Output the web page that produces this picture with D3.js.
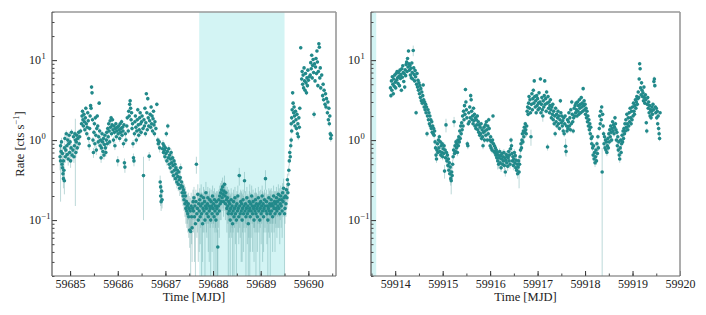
<!DOCTYPE html>
<html>
<head>
    <meta charset="utf-8">
    <title>Light curve</title>
    <script src="https://d3js.org/d3.v7.min.js"></script>
    <style>
        body { margin: 0; background: #fff; }
        svg text { font-family: "Liberation Serif", "Times New Roman", Times, "Nimbus Roman", "DejaVu Serif", "Noto Serif", serif !important; fill: #222; }
    </style>
</head>
<body>
<script>
// [time (MJD), rate (cts/s), error]
const leftSeries = [
[59684.79,0.62,0.2],[59684.80,0.85,0.15],[59684.80,0.55,0.38],[59684.81,0.72,0.12],[59684.82,0.95,0.12],
[59684.83,0.50,0.1],[59684.84,0.45,0.1],[59684.84,0.68,0.1],[59684.85,0.38,0.08],[59684.86,0.33,0.08],
[59684.86,0.55,0.1],[59684.87,0.42,0.1],[59684.88,0.31,0.1],[59684.88,0.80,0.12],[59684.89,1.05,0.12],
[59684.90,0.62,0.1],[59684.91,0.75,0.1],[59684.92,1.2,0.12],[59684.93,0.85,0.1],[59684.94,0.66,0.1],
[59684.95,1.0,0.12],[59684.96,0.58,0.1],[59684.97,0.9,0.1],[59684.98,1.15,0.12],[59684.99,0.7,0.1],
[59685.00,0.95,0.1],[59685.01,0.55,0.1],[59685.02,0.8,0.1],[59685.03,1.25,0.12],[59685.04,0.65,0.1],
[59685.06,0.75,0.1],[59685.07,1.1,0.1],[59685.08,0.62,0.1],[59685.09,0.85,0.1],[59685.10,1.2,0.1],
[59685.11,1.0,0.85],[59685.12,0.7,0.1],[59685.13,0.95,0.1],[59685.14,1.15,0.1],[59685.15,0.8,0.1],
[59685.16,1.05,0.1],[59685.18,1.25,0.1],[59685.19,0.9,0.1],[59685.20,1.1,0.1],[59685.22,1.3,0.1],
[59685.24,1.6,0.12],[59685.25,2.0,0.15],[59685.26,2.3,0.15],[59685.27,1.8,0.12],[59685.28,1.5,0.12],
[59685.29,2.1,0.15],[59685.30,1.7,0.12],[59685.31,1.35,0.1],[59685.32,1.9,0.12],[59685.33,2.5,0.15],
[59685.34,1.6,0.12],[59685.35,1.2,0.1],[59685.36,1.45,0.1],[59685.37,2.2,0.15],[59685.38,1.75,0.12],
[59685.39,1.05,0.1],[59685.40,0.85,0.1],[59685.41,1.4,0.1],[59685.42,2.0,0.12],[59685.43,2.7,0.15],
[59685.44,2.5,0.15],[59685.45,4.6,0.25],[59685.46,3.9,0.2],[59685.47,1.8,0.12],[59685.48,1.0,0.1],
[59685.49,0.7,0.1],[59685.50,1.25,0.1],[59685.51,1.6,0.12],[59685.52,0.9,0.1],[59685.53,1.9,0.12],
[59685.54,1.15,0.1],[59685.55,0.75,0.1],[59685.56,1.4,0.1],[59685.57,2.0,0.12],[59685.58,1.5,0.1],
[59685.59,0.95,0.1],[59685.60,1.1,0.1],[59685.61,2.9,0.15],[59685.62,1.3,0.1],[59685.63,0.85,0.1],
[59685.64,1.0,0.1],[59685.65,0.6,0.08],[59685.66,0.8,0.1],[59685.67,1.2,0.1],[59685.68,0.95,0.1],
[59685.69,0.72,0.08],[59685.70,1.05,0.1],[59685.71,0.65,0.08],[59685.72,0.88,0.1],[59685.73,1.15,0.1],
[59685.74,0.8,0.1],[59685.75,0.7,0.08],[59685.76,1.0,0.1],[59685.77,1.25,0.1],[59685.78,0.9,0.1],
[59685.79,1.4,0.1],[59685.80,1.1,0.1],[59685.81,1.6,0.12],[59685.82,1.3,0.1],[59685.83,0.95,0.1],
[59685.84,1.75,0.12],[59685.85,1.45,0.1],[59685.86,1.9,0.12],[59685.87,1.2,0.1],[59685.88,1.55,0.1],
[59685.89,1.8,0.12],[59685.90,1.35,0.1],[59685.91,1.0,0.1],[59685.92,1.5,0.1],[59685.93,1.25,0.1],
[59685.94,0.85,0.1],[59685.95,1.4,0.1],[59685.96,1.6,0.1],[59685.97,1.1,0.1],[59685.98,1.3,0.1],
[59685.99,1.45,0.1],[59686.00,0.55,0.08],[59686.01,1.2,0.1],[59686.02,1.5,0.1],[59686.03,1.35,0.1],
[59686.04,1.05,0.1],[59686.05,1.6,0.1],[59686.06,1.25,0.1],[59686.07,1.4,0.1],[59686.08,1.7,0.12],
[59686.09,1.15,0.1],[59686.10,1.45,0.1],[59686.11,1.3,0.1],[59686.12,0.9,0.1],[59686.13,1.55,0.1],
[59686.14,0.52,0.07],[59686.15,0.46,0.07],[59686.16,1.2,0.1],[59686.17,1.0,0.1],[59686.19,1.5,0.1],
[59686.20,1.9,0.12],[59686.22,1.3,0.1],[59686.23,2.3,0.15],[59686.24,2.0,0.12],[59686.25,2.8,0.15],
[59686.26,3.1,0.2],[59686.27,2.5,0.15],[59686.28,1.8,0.12],[59686.29,2.2,0.12],[59686.30,1.4,0.1],
[59686.31,1.6,0.1],[59686.32,0.9,0.1],[59686.33,0.6,0.08],[59686.34,0.55,0.08],[59686.35,1.2,0.1],
[59686.36,1.7,0.1],[59686.37,2.0,0.12],[59686.38,1.45,0.1],[59686.39,1.0,0.1],[59686.40,1.3,0.1],
[59686.41,1.8,0.12],[59686.42,2.4,0.15],[59686.43,1.55,0.1],[59686.44,1.15,0.1],[59686.45,1.35,0.1],
[59686.46,1.9,0.12],[59686.47,2.2,0.12],[59686.48,1.6,0.1],[59686.49,1.25,0.1],[59686.50,1.7,0.12],
[59686.51,2.0,0.12],[59686.53,1.4,0.1],[59686.54,0.36,0.26],[59686.55,1.8,0.12],[59686.56,1.5,0.1],
[59686.57,2.5,0.15],[59686.58,1.2,0.1],[59686.59,1.65,0.1],[59686.60,3.8,0.2],[59686.61,2.2,0.12],
[59686.62,1.35,0.1],[59686.63,3.3,0.2],[59686.64,1.9,0.12],[59686.65,1.5,0.1],[59686.66,0.63,0.08],
[59686.67,1.75,0.1],[59686.68,2.1,0.12],[59686.69,1.45,0.1],[59686.70,2.6,0.15],[59686.71,1.6,0.1],
[59686.72,2.0,0.12],[59686.73,1.3,0.1],[59686.74,1.85,0.1],[59686.75,2.3,0.12],[59686.76,1.55,0.1],
[59686.77,1.2,0.1],[59686.78,1.7,0.1],[59686.80,1.4,0.1],[59686.82,2.8,0.15],[59686.84,1.0,0.1],
[59686.85,0.9,0.1],[59686.87,0.95,0.1],[59686.88,0.8,0.1],[59686.89,0.3,0.06],[59686.90,0.2,0.05],
[59686.90,0.26,0.05],[59686.91,0.17,0.04],[59686.92,0.23,0.05],[59686.93,0.18,0.04],[59686.94,0.78,0.08],
[59686.95,0.9,0.1],[59686.96,0.7,0.08],[59686.97,0.85,0.08],[59686.98,0.75,0.08],[59686.99,0.62,0.07],
[59687.00,0.8,0.08],[59687.01,0.68,0.07],[59687.02,1.2,0.1],[59687.03,0.55,0.07],[59687.04,0.72,0.08],
[59687.05,1.5,0.12],[59687.06,0.6,0.07],[59687.07,0.78,0.08],[59687.08,0.5,0.07],[59687.09,0.65,0.07],
[59687.10,0.45,0.06],[59687.11,0.58,0.07],[59687.12,0.7,0.08],[59687.13,0.52,0.06],[59687.14,0.4,0.06],
[59687.15,0.6,0.07],[59687.16,0.48,0.06],[59687.17,0.36,0.05],[59687.18,0.55,0.07],[59687.19,0.42,0.06],
[59687.20,0.5,0.06],[59687.21,0.33,0.05],[59687.22,0.45,0.06],[59687.23,0.38,0.05],[59687.24,0.3,0.05],
[59687.25,0.42,0.06],[59687.26,0.35,0.05],[59687.27,0.28,0.05],[59687.28,0.4,0.06],[59687.29,0.32,0.05],
[59687.30,0.25,0.05],[59687.31,0.34,0.05],[59687.32,0.45,0.06],[59687.33,0.27,0.05],[59687.34,0.3,0.05],
[59687.35,0.22,0.05],[59687.36,0.26,0.05],[59687.37,0.2,0.05],[59687.38,0.24,0.05],[59687.39,0.18,0.05],
[59687.40,0.22,0.06],[59687.41,0.16,0.05],[59687.42,0.2,0.06],[59687.43,0.14,0.05],[59687.44,0.17,0.06],
[59687.45,0.13,0.05],[59687.46,0.15,0.06],[59687.47,0.12,0.05],[59687.48,0.16,0.06],[59687.49,0.11,0.05],
[59687.50,0.14,0.06],[59687.51,0.075,0.03],[59687.52,0.13,0.06],[59687.53,0.072,0.07],[59687.54,0.15,0.07],
[59687.55,0.11,0.06],[59687.56,0.08,0.05],[59687.57,0.14,0.06],[59687.58,0.17,0.07],[59687.59,0.13,0.06],
[59687.60,0.19,0.07],[59687.61,0.11,0.08],[59687.62,0.15,0.06],[59687.63,0.09,0.07],[59687.64,0.17,0.07],
[59687.65,0.5,0.12],[59687.66,0.12,0.06],[59687.67,0.14,0.07],[59687.68,0.21,0.07],[59687.69,0.1,0.07],
[59687.70,0.16,0.06],[59687.71,0.13,0.09],[59687.72,0.18,0.07],[59687.73,0.11,0.06],[59687.74,0.15,0.07],
[59687.75,0.2,0.08],[59687.76,0.12,0.1],[59687.77,0.16,0.06],[59687.78,0.09,0.06],[59687.79,0.14,0.07],
[59687.80,0.19,0.07],[59687.81,0.13,0.06],[59687.82,0.17,0.07],[59687.83,0.1,0.09],[59687.84,0.15,0.06],
[59687.85,0.22,0.08],[59687.86,0.14,0.07],[59687.87,0.12,0.06],[59687.88,0.16,0.07],[59687.89,0.19,0.07],
[59687.90,0.11,0.07],[59687.91,0.15,0.06],[59687.92,0.13,0.1],[59687.93,0.18,0.07],[59687.94,0.14,0.06],
[59687.95,0.1,0.08],[59687.96,0.17,0.07],[59687.97,0.15,0.06],[59687.98,0.12,0.08],[59687.99,0.2,0.07],
[59688.00,0.14,0.06],[59688.01,0.16,0.07],[59688.02,0.11,0.09],[59688.03,0.18,0.07],[59688.04,0.13,0.06],
[59688.05,0.15,0.07],[59688.06,0.1,0.08],[59688.07,0.17,0.06],[59688.08,0.14,0.07],[59688.09,0.12,0.11],
[59688.10,0.046,0.03],[59688.11,0.15,0.07],[59688.12,0.18,0.06],[59688.13,0.13,0.07],[59688.14,0.2,0.07],
[59688.15,0.16,0.06],[59688.16,0.22,0.07],[59688.17,0.17,0.07],[59688.18,0.24,0.07],[59688.19,0.19,0.06],
[59688.20,0.26,0.08],[59688.21,0.21,0.07],[59688.22,0.17,0.06],[59688.23,0.23,0.07],[59688.24,0.28,0.08],
[59688.25,0.2,0.07],[59688.26,0.16,0.06],[59688.27,0.22,0.07],[59688.28,0.18,0.06],[59688.29,0.14,0.07],
[59688.30,0.19,0.07],[59688.31,0.15,0.06],[59688.32,0.12,0.12],[59688.33,0.17,0.07],[59688.34,0.13,0.07],
[59688.35,0.16,0.06],[59688.36,0.1,0.1],[59688.37,0.14,0.07],[59688.38,0.18,0.07],[59688.39,0.12,0.06],
[59688.40,0.15,0.07],[59688.41,0.09,0.08],[59688.42,0.13,0.06],[59688.43,0.17,0.07],[59688.44,0.11,0.1],
[59688.45,0.14,0.06],[59688.46,0.19,0.07],[59688.47,0.12,0.07],[59688.48,0.15,0.06],[59688.49,0.1,0.09],
[59688.50,0.16,0.07],[59688.51,0.13,0.06],[59688.52,0.2,0.07],[59688.53,0.14,0.07],[59688.54,0.11,0.06],
[59688.55,0.36,0.09],[59688.56,0.15,0.07],[59688.57,0.12,0.06],[59688.58,0.17,0.07],[59688.59,0.13,0.1],
[59688.60,0.16,0.06],[59688.61,0.1,0.07],[59688.62,0.14,0.07],[59688.63,0.18,0.06],[59688.64,0.12,0.08],
[59688.65,0.15,0.07],[59688.66,0.31,0.09],[59688.67,0.13,0.06],[59688.68,0.16,0.07],[59688.69,0.11,0.09],
[59688.70,0.14,0.06],[59688.71,0.19,0.07],[59688.72,0.12,0.07],[59688.73,0.15,0.06],[59688.74,0.09,0.07],
[59688.75,0.13,0.07],[59688.76,0.17,0.06],[59688.77,0.14,0.14],[59688.78,0.11,0.07],[59688.79,0.16,0.06],
[59688.80,0.13,0.07],[59688.81,0.2,0.07],[59688.82,0.15,0.06],[59688.83,0.12,0.08],[59688.84,0.17,0.07],
[59688.85,0.14,0.06],[59688.86,0.1,0.07],[59688.87,0.15,0.07],[59688.88,0.13,0.06],[59688.89,0.18,0.07],
[59688.90,0.12,0.1],[59688.91,0.16,0.06],[59688.92,0.14,0.07],[59688.93,0.11,0.07],[59688.94,0.15,0.06],
[59688.95,0.19,0.07],[59688.96,0.13,0.06],[59688.97,0.16,0.07],[59688.98,0.1,0.08],[59688.99,0.14,0.06],
[59689.00,0.17,0.07],[59689.01,0.12,0.07],[59689.02,0.15,0.06],[59689.03,0.2,0.07],[59689.04,0.13,0.1],
[59689.05,0.16,0.06],[59689.06,0.11,0.07],[59689.07,0.14,0.07],[59689.08,0.18,0.06],[59689.09,0.15,0.07],
[59689.10,0.33,0.09],[59689.11,0.13,0.06],[59689.12,0.17,0.07],[59689.13,0.12,0.07],[59689.14,0.15,0.06],
[59689.15,0.1,0.09],[59689.16,0.14,0.07],[59689.17,0.19,0.06],[59689.18,0.13,0.07],[59689.19,0.16,0.07],
[59689.20,0.12,0.12],[59689.21,0.15,0.06],[59689.22,0.18,0.07],[59689.23,0.13,0.06],[59689.24,0.16,0.07],
[59689.25,0.11,0.07],[59689.26,0.15,0.06],[59689.27,0.2,0.07],[59689.28,0.14,0.07],[59689.29,0.17,0.06],
[59689.30,0.12,0.08],[59689.31,0.16,0.07],[59689.32,0.14,0.06],[59689.33,0.19,0.07],[59689.34,0.13,0.07],
[59689.35,0.17,0.06],[59689.36,0.15,0.07],[59689.37,0.21,0.07],[59689.38,0.14,0.06],[59689.39,0.18,0.07],
[59689.40,0.12,0.07],[59689.41,0.16,0.06],[59689.42,0.2,0.07],[59689.43,0.15,0.07],[59689.44,0.18,0.06],
[59689.45,0.13,0.07],[59689.46,0.22,0.07],[59689.47,0.17,0.06],[59689.48,0.25,0.08],[59689.49,0.19,0.06],
[59689.50,0.12,0.11],[59689.51,0.14,0.05],[59689.52,0.2,0.05],[59689.53,0.16,0.05],[59689.54,0.24,0.05],
[59689.55,0.19,0.05],[59689.56,0.32,0.06],[59689.57,0.22,0.05],[59689.58,0.28,0.05],[59689.59,0.42,0.06],
[59689.60,0.55,0.07],[59689.61,0.7,0.08],[59689.62,0.62,0.07],[59689.63,0.85,0.08],[59689.64,1.0,0.1],
[59689.64,1.6,0.12],[59689.65,1.9,0.12],[59689.65,1.3,0.1],[59689.66,2.4,0.15],[59689.67,3.9,0.2],
[59689.68,2.9,0.15],[59689.69,2.2,0.12],[59689.69,1.7,0.1],[59689.70,2.6,0.15],[59689.71,2.0,0.12],
[59689.72,1.5,0.1],[59689.73,2.3,0.12],[59689.74,1.8,0.1],[59689.75,1.4,0.1],[59689.76,2.1,0.12],
[59689.77,1.2,0.1],[59689.78,1.6,0.1],[59689.79,1.1,0.1],[59689.80,1.9,0.12],[59689.81,1.45,0.1],
[59689.82,2.5,0.15],[59689.84,14.3,0.8],[59689.86,5.8,0.4],[59689.87,7.2,0.4],[59689.88,5.0,0.3],
[59689.89,6.5,0.35],[59689.90,4.5,0.3],[59689.91,8.0,0.4],[59689.92,5.5,0.3],[59689.93,4.2,0.25],
[59689.94,6.8,0.35],[59689.95,5.2,0.3],[59689.96,3.9,0.25],[59689.97,6.0,0.35],[59689.98,4.8,0.3],
[59689.99,7.5,0.4],[59690.00,5.6,0.3],[59690.02,6.2,0.35],[59690.04,6.5,0.35],[59690.05,9.3,0.5],
[59690.06,7.8,0.4],[59690.07,11.5,0.6],[59690.08,6.0,0.35],[59690.09,8.6,0.45],[59690.10,10.2,0.5],
[59690.11,7.0,0.4],[59690.12,2.1,0.2],[59690.13,9.0,0.5],[59690.14,5.5,0.3],[59690.15,8.2,0.4],
[59690.16,10.5,0.5],[59690.17,6.8,0.4],[59690.18,13.0,0.6],[59690.19,9.5,0.5],[59690.20,4.8,0.3],
[59690.21,7.2,0.4],[59690.22,16.0,0.8],[59690.23,14.5,0.7],[59690.24,6.0,0.35],[59690.25,8.0,0.4],
[59690.26,4.5,0.3],[59690.28,6.5,0.35],[59690.30,3.6,0.25],[59690.31,5.0,0.3],[59690.32,3.2,0.2],
[59690.33,4.2,0.25],[59690.35,2.8,0.2],[59690.36,3.8,0.25],[59690.37,2.6,0.2],[59690.38,3.3,0.2],
[59690.40,2.2,0.15],[59690.41,3.0,0.2],[59690.42,1.8,0.12],[59690.43,2.5,0.15],[59690.44,1.6,0.12],
[59690.45,2.0,0.12],[59690.46,1.2,0.1],[59690.47,1.05,0.1],[59690.48,1.15,0.1]
];

const rightSeries = [
[59913.90,4.5,0.3],[59913.91,3.6,0.25],[59913.92,5.5,0.3],[59913.93,4.2,0.25],[59913.94,6.2,0.35],
[59913.95,5.0,0.3],[59913.96,3.8,0.25],[59913.97,5.8,0.3],[59913.98,4.7,0.3],[59913.99,6.5,0.35],
[59914.00,5.3,0.3],[59914.01,4.5,0.3],[59914.02,6.8,0.35],[59914.03,5.6,0.3],[59914.04,7.2,0.4],
[59914.05,6.0,0.35],[59914.06,5.1,0.3],[59914.07,7.0,0.4],[59914.08,6.3,0.35],[59914.09,4.8,0.3],
[59914.10,7.5,0.4],[59914.11,5.9,0.35],[59914.12,6.6,0.35],[59914.13,4.2,0.25],[59914.14,7.8,0.4],
[59914.15,6.1,0.35],[59914.16,8.5,0.45],[59914.17,7.0,0.4],[59914.18,5.4,0.3],[59914.19,6.8,0.35],
[59914.20,4.6,0.3],[59914.21,7.6,0.4],[59914.22,6.4,0.35],[59914.23,8.8,0.45],[59914.24,9.5,0.5],
[59914.25,7.2,0.4],[59914.26,10.5,0.5],[59914.27,8.2,0.45],[59914.28,13.0,0.7],[59914.29,9.0,0.5],
[59914.30,7.5,0.4],[59914.31,8.6,0.45],[59914.32,6.5,0.35],[59914.33,7.9,0.4],[59914.34,6.0,0.35],
[59914.35,9.2,0.5],[59914.36,7.0,0.4],[59914.37,5.8,0.35],[59914.38,13.2,2.0],[59914.39,8.0,0.45],
[59914.40,6.6,0.35],[59914.41,5.5,0.3],[59914.42,7.4,0.4],[59914.43,6.2,0.35],[59914.44,2.2,0.15],
[59914.45,5.0,0.3],[59914.46,6.8,0.35],[59914.47,4.6,0.3],[59914.48,5.6,0.3],[59914.49,4.2,0.25],
[59914.50,5.2,0.3],[59914.51,3.8,0.25],[59914.52,4.8,0.3],[59914.53,3.4,0.2],[59914.54,4.4,0.3],
[59914.55,3.1,0.2],[59914.56,4.0,0.25],[59914.57,2.9,0.2],[59914.58,3.6,0.2],[59914.59,4.9,0.3],
[59914.60,3.2,0.2],[59914.61,2.6,0.15],[59914.62,3.0,0.2],[59914.63,2.4,0.15],[59914.64,2.8,0.15],
[59914.65,2.2,0.15],[59914.66,2.6,0.15],[59914.67,1.2,0.1],[59914.68,2.0,0.12],[59914.69,2.4,0.15],
[59914.70,1.8,0.1],[59914.71,2.2,0.12],[59914.72,1.6,0.1],[59914.73,2.0,0.12],[59914.74,1.5,0.1],
[59914.75,1.8,0.1],[59914.76,1.4,0.1],[59914.77,1.7,0.1],[59914.78,1.25,0.1],[59914.79,1.5,0.1],
[59914.80,1.2,0.1],[59914.81,1.4,0.1],[59914.82,1.15,0.1],[59914.83,1.3,0.1],[59914.84,0.95,0.08],
[59914.85,0.8,0.07],[59914.86,0.65,0.07],[59914.87,0.58,0.06],[59914.88,0.75,0.07],[59914.89,0.9,0.08],
[59914.90,0.7,0.07],[59914.91,1.0,0.08],[59914.92,0.8,0.07],[59914.93,1.1,0.08],[59914.94,0.72,0.07],
[59914.95,0.95,0.08],[59914.96,0.65,0.07],[59914.97,0.85,0.08],[59914.98,0.7,0.07],[59914.99,0.9,0.08],
[59915.00,0.62,0.06],[59915.01,0.78,0.07],[59915.02,0.68,0.07],[59915.03,0.85,0.08],[59915.04,0.41,0.08],
[59915.05,0.75,0.07],[59915.06,0.6,0.06],[59915.07,1.55,0.3],[59915.08,0.7,0.07],[59915.09,0.55,0.06],
[59915.10,0.65,0.06],[59915.11,0.48,0.05],[59915.12,0.58,0.06],[59915.13,0.42,0.05],[59915.14,0.52,0.06],
[59915.15,0.38,0.05],[59915.16,0.46,0.05],[59915.17,0.33,0.06],[59915.18,0.31,0.1],[59915.19,0.4,0.05],
[59915.20,0.36,0.05],[59915.21,0.5,0.06],[59915.22,0.62,0.06],[59915.23,0.75,0.07],[59915.24,1.7,0.25],
[59915.25,0.68,0.06],[59915.26,0.85,0.07],[59915.27,0.72,0.07],[59915.28,0.95,0.08],[59915.29,0.8,0.07],
[59915.30,0.9,0.08],[59915.31,0.7,0.07],[59915.32,1.0,0.08],[59915.33,0.85,0.07],[59915.34,1.1,0.08],
[59915.35,0.95,0.08],[59915.36,1.3,0.1],[59915.37,1.05,0.08],[59915.38,1.5,0.1],[59915.39,1.2,0.1],
[59915.40,1.65,0.1],[59915.41,1.35,0.1],[59915.42,2.0,0.12],[59915.43,1.5,0.1],[59915.44,2.3,0.15],
[59915.45,1.8,0.1],[59915.46,2.7,0.15],[59915.47,2.1,0.12],[59915.48,4.3,0.25],[59915.49,3.0,0.2],
[59915.50,2.4,0.15],[59915.51,1.9,0.12],[59915.52,0.9,0.08],[59915.53,0.85,0.08],[59915.54,1.6,0.1],
[59915.55,2.2,0.12],[59915.56,1.7,0.1],[59915.57,2.6,0.15],[59915.58,1.9,0.12],[59915.59,3.6,0.25],
[59915.60,3.2,0.2],[59915.61,2.3,0.15],[59915.62,1.8,0.1],[59915.63,2.0,0.12],[59915.64,1.6,0.1],
[59915.65,2.5,0.15],[59915.66,1.75,0.1],[59915.67,2.1,0.12],[59915.68,1.5,0.1],[59915.69,1.9,0.12],
[59915.70,1.4,0.1],[59915.71,1.8,0.1],[59915.72,1.55,0.1],[59915.73,2.0,0.12],[59915.74,1.35,0.1],
[59915.75,1.7,0.1],[59915.76,1.25,0.1],[59915.77,1.55,0.1],[59915.78,1.15,0.1],[59915.79,1.45,0.1],
[59915.80,1.2,0.1],[59915.81,1.6,0.1],[59915.82,1.05,0.08],[59915.83,1.35,0.1],[59915.84,1.1,0.08],
[59915.85,0.85,0.08],[59915.86,1.25,0.1],[59915.87,1.45,0.1],[59915.88,1.0,0.08],[59915.89,1.3,0.1],
[59915.90,1.55,0.1],[59915.91,1.15,0.1],[59915.92,1.7,0.1],[59915.93,1.35,0.1],[59915.94,1.0,0.08],
[59915.95,1.5,0.1],[59915.96,1.2,0.1],[59915.97,1.8,0.12],[59915.98,1.4,0.1],[59915.99,1.0,0.08],
[59916.00,0.85,0.08],[59916.01,1.1,0.08],[59916.02,0.8,0.07],[59916.03,0.95,0.08],[59916.04,0.75,0.07],
[59916.05,1.0,0.08],[59916.06,2.0,0.12],[59916.07,0.9,0.08],[59916.08,0.72,0.07],[59916.09,0.85,0.08],
[59916.10,0.7,0.07],[59916.11,0.8,0.07],[59916.12,0.65,0.06],[59916.13,0.75,0.07],[59916.14,0.6,0.06],
[59916.15,0.7,0.07],[59916.16,0.55,0.12],[59916.17,0.65,0.06],[59916.18,0.5,0.06],[59916.19,0.6,0.06],
[59916.20,0.72,0.07],[59916.21,0.52,0.06],[59916.22,0.64,0.06],[59916.23,0.45,0.05],[59916.24,0.58,0.06],
[59916.25,0.68,0.07],[59916.26,0.5,0.06],[59916.27,0.62,0.06],[59916.28,0.55,0.06],[59916.29,0.7,0.07],
[59916.30,0.48,0.06],[59916.31,0.6,0.06],[59916.32,0.4,0.05],[59916.33,0.56,0.06],[59916.34,0.66,0.07],
[59916.35,0.52,0.06],[59916.36,0.62,0.06],[59916.37,0.47,0.06],[59916.38,0.6,0.06],[59916.39,0.72,0.07],
[59916.40,0.55,0.06],[59916.41,0.65,0.06],[59916.42,0.5,0.06],[59916.43,0.78,0.07],[59916.44,1.0,0.08],
[59916.45,0.85,0.08],[59916.46,0.68,0.07],[59916.47,0.55,0.06],[59916.48,0.62,0.06],[59916.49,0.48,0.06],
[59916.50,0.58,0.06],[59916.51,0.7,0.07],[59916.52,0.52,0.06],[59916.53,0.64,0.06],[59916.54,0.45,0.05],
[59916.55,0.56,0.06],[59916.56,0.42,0.06],[59916.57,0.5,0.06],[59916.58,0.38,0.05],[59916.59,0.46,0.06],
[59916.60,0.55,0.06],[59916.61,0.4,0.15],[59916.62,0.5,0.06],[59916.63,0.62,0.06],[59916.64,0.75,0.07],
[59916.65,0.9,0.08],[59916.66,0.8,0.07],[59916.67,1.0,0.08],[59916.68,1.2,0.1],[59916.69,0.95,0.08],
[59916.70,1.3,0.1],[59916.71,1.1,0.08],[59916.72,1.45,0.1],[59916.73,1.25,0.1],[59916.74,1.6,0.1],
[59916.75,1.35,0.1],[59916.76,1.2,0.1],[59916.77,1.5,0.1],[59916.78,2.3,0.15],[59916.79,2.6,0.15],
[59916.80,2.1,0.12],[59916.81,2.9,0.15],[59916.82,3.5,0.2],[59916.83,2.5,0.15],[59916.84,3.2,0.2],
[59916.85,2.2,0.12],[59916.86,1.1,0.25],[59916.87,2.8,0.15],[59916.88,3.8,0.2],[59916.89,2.4,0.15],
[59916.90,3.3,0.2],[59916.91,4.2,0.25],[59916.92,2.9,0.15],[59916.93,5.5,0.3],[59916.94,3.5,0.2],
[59916.95,2.6,0.15],[59916.96,3.1,0.2],[59916.97,2.2,0.12],[59916.98,3.6,0.2],[59916.99,2.7,0.15],
[59917.00,3.3,0.2],[59917.01,2.4,0.15],[59917.02,2.9,0.15],[59917.03,3.9,0.2],[59917.04,2.5,0.15],
[59917.05,3.0,0.2],[59917.06,5.8,0.3],[59917.07,2.2,0.12],[59917.08,2.8,0.15],[59917.09,3.4,0.2],
[59917.10,2.4,0.15],[59917.11,2.0,0.3],[59917.12,3.1,0.2],[59917.13,2.6,0.15],[59917.14,3.6,0.2],
[59917.15,5.5,0.3],[59917.16,2.8,0.15],[59917.17,3.3,0.2],[59917.18,2.3,0.15],[59917.19,4.0,0.25],
[59917.20,2.9,0.15],[59917.21,0.82,0.08],[59917.22,3.5,0.2],[59917.23,2.5,0.15],[59917.24,3.0,0.2],
[59917.25,2.2,0.12],[59917.26,2.7,0.15],[59917.27,3.2,0.2],[59917.28,2.4,0.15],[59917.29,1.9,0.12],
[59917.30,2.6,0.15],[59917.31,2.1,0.12],[59917.32,2.8,0.15],[59917.33,1.8,0.1],[59917.34,2.3,0.15],
[59917.35,1.6,0.1],[59917.36,2.0,0.12],[59917.37,1.2,0.1],[59917.38,2.5,0.15],[59917.39,1.7,0.1],
[59917.40,2.1,0.12],[59917.41,1.5,0.1],[59917.42,1.9,0.12],[59917.43,2.3,0.15],[59917.44,1.6,0.1],
[59917.45,2.0,0.12],[59917.46,1.4,0.1],[59917.47,1.8,0.1],[59917.48,3.1,0.2],[59917.49,2.2,0.12],
[59917.50,1.65,0.1],[59917.51,2.0,0.12],[59917.52,1.5,0.1],[59917.53,1.75,0.1],[59917.54,1.3,0.1],
[59917.55,1.9,0.12],[59917.56,1.2,0.1],[59917.57,1.6,0.1],[59917.58,2.0,0.12],[59917.59,0.84,0.2],
[59917.60,0.72,0.1],[59917.61,1.5,0.1],[59917.62,1.3,0.1],[59917.63,1.8,0.1],[59917.64,1.4,0.1],
[59917.65,1.7,0.1],[59917.66,2.2,0.12],[59917.67,1.5,0.1],[59917.68,1.9,0.12],[59917.69,1.35,0.1],
[59917.70,2.4,0.15],[59917.71,1.6,0.1],[59917.72,3.0,0.2],[59917.73,2.1,0.12],[59917.74,1.7,0.1],
[59917.75,1.3,0.1],[59917.76,1.9,0.12],[59917.77,2.5,0.15],[59917.78,2.0,0.12],[59917.79,2.7,0.15],
[59917.80,2.2,0.12],[59917.81,2.9,0.15],[59917.82,2.4,0.15],[59917.83,2.0,0.12],[59917.84,3.0,0.2],
[59917.85,2.3,0.15],[59917.86,2.7,0.15],[59917.87,2.1,0.12],[59917.88,3.2,0.2],[59917.89,2.5,0.15],
[59917.90,2.8,0.15],[59917.91,2.2,0.12],[59917.92,3.4,0.2],[59917.93,2.6,0.15],[59917.94,2.9,0.15],
[59917.95,2.3,0.15],[59917.96,4.4,0.25],[59917.97,2.7,0.15],[59917.98,3.1,0.2],[59917.99,2.4,0.15],
[59918.00,2.8,0.15],[59918.01,2.1,0.12],[59918.02,2.5,0.15],[59918.03,1.9,0.12],[59918.04,2.3,0.15],
[59918.05,1.7,0.1],[59918.06,2.0,0.12],[59918.07,1.5,0.1],[59918.08,1.8,0.1],[59918.09,1.35,0.1],
[59918.10,1.6,0.1],[59918.11,1.2,0.1],[59918.12,1.45,0.1],[59918.13,1.05,0.08],[59918.14,0.9,0.08],
[59918.15,1.1,0.08],[59918.16,0.8,0.07],[59918.17,0.65,0.07],[59918.18,0.85,0.08],[59918.19,0.58,0.06],
[59918.20,0.7,0.07],[59918.21,0.52,0.06],[59918.22,0.62,0.06],[59918.23,0.75,0.07],[59918.24,0.55,0.06],
[59918.25,0.9,0.08],[59918.26,0.68,0.07],[59918.27,1.1,0.08],[59918.28,0.8,0.07],[59918.30,1.4,0.1],
[59918.31,2.0,0.12],[59918.32,1.6,0.1],[59918.33,2.3,0.15],[59918.34,1.8,0.1],[59918.35,2.6,0.15],
[59918.36,0.4,0.4],[59918.37,2.1,0.12],[59918.38,1.5,0.1],[59918.39,1.2,0.1],[59918.40,0.9,0.08],
[59918.41,1.1,0.08],[59918.42,0.8,0.07],[59918.43,1.0,0.08],[59918.44,0.75,0.07],[59918.45,0.95,0.08],
[59918.46,0.7,0.07],[59918.47,0.85,0.08],[59918.48,1.05,0.08],[59918.49,0.8,0.07],[59918.50,1.2,0.1],
[59918.51,0.95,0.08],[59918.52,1.35,0.1],[59918.53,1.1,0.08],[59918.54,1.5,0.1],[59918.55,1.25,0.1],
[59918.56,1.0,0.08],[59918.57,1.4,0.1],[59918.58,1.7,0.1],[59918.59,1.3,0.1],[59918.60,1.55,0.1],
[59918.61,1.2,0.1],[59918.62,1.45,0.1],[59918.63,1.9,0.12],[59918.64,1.6,0.1],[59918.65,1.35,0.1],
[59918.66,1.0,0.08],[59918.67,1.25,0.1],[59918.68,0.85,0.08],[59918.69,1.1,0.08],[59918.70,0.75,0.07],
[59918.71,0.95,0.08],[59918.72,0.65,0.07],[59918.73,0.58,0.06],[59918.74,0.8,0.07],[59918.75,1.0,0.08],
[59918.76,0.7,0.07],[59918.77,0.9,0.08],[59918.78,1.15,0.1],[59918.79,0.95,0.08],[59918.80,1.3,0.1],
[59918.81,1.05,0.08],[59918.82,1.4,0.1],[59918.83,1.2,0.1],[59918.84,1.6,0.1],[59918.85,1.3,0.1],
[59918.86,1.8,0.1],[59918.87,1.45,0.1],[59918.88,2.1,0.12],[59918.89,1.6,0.1],[59918.90,1.35,0.1],
[59918.91,1.9,0.12],[59918.92,1.5,0.1],[59918.93,2.2,0.12],[59918.94,1.7,0.1],[59918.95,2.5,0.15],
[59918.96,1.9,0.12],[59918.97,1.6,0.1],[59918.98,2.3,0.15],[59918.99,1.8,0.1],[59919.00,2.6,0.15],
[59919.01,2.0,0.12],[59919.02,2.9,0.15],[59919.03,2.3,0.15],[59919.04,2.1,0.12],[59919.05,2.7,0.15],
[59919.06,3.2,0.2],[59919.07,2.5,0.15],[59919.08,3.0,0.2],[59919.09,3.5,0.2],[59919.10,2.8,0.15],
[59919.11,3.3,0.2],[59919.12,4.0,0.25],[59919.13,3.4,0.2],[59919.14,5.8,0.35],[59919.15,9.0,0.5],
[59919.16,7.8,0.4],[59919.17,4.5,0.25],[59919.18,3.7,0.2],[59919.19,5.2,0.3],[59919.20,4.2,0.25],
[59919.21,3.5,0.2],[59919.22,3.9,0.25],[59919.23,3.1,0.2],[59919.24,4.6,0.25],[59919.25,3.4,0.2],
[59919.26,2.9,0.15],[59919.27,3.7,0.2],[59919.28,3.2,0.2],[59919.29,1.65,0.1],[59919.30,1.3,0.1],
[59919.31,2.8,0.15],[59919.32,3.4,0.2],[59919.33,2.5,0.15],[59919.34,3.0,0.2],[59919.35,2.2,0.12],
[59919.36,2.7,0.15],[59919.37,2.0,0.12],[59919.38,2.4,0.15],[59919.39,1.9,0.12],[59919.40,2.3,0.15],
[59919.41,2.6,0.15],[59919.42,2.1,0.12],[59919.43,2.8,0.15],[59919.44,2.4,0.15],[59919.45,5.4,0.8],
[59919.46,5.8,0.4],[59919.47,4.8,0.3],[59919.48,2.6,0.15],[59919.49,2.2,0.12],[59919.50,2.5,0.15],
[59919.51,1.9,0.12],[59919.52,2.3,0.15],[59919.53,1.6,0.1],[59919.54,2.0,0.12],[59919.55,1.4,0.1],
[59919.56,1.2,0.1],[59919.57,1.05,0.08],[59919.58,2.2,0.12]
];

// shaded intervals (MJD)
const leftBand = [59687.71, 59689.50];
const rightBand = [59913.40, 59913.60];

const leftDomain = [59684.62, 59690.58];
const rightDomain = [59913.49, 59920.0];
const rateDomain = [0.02, 40];

const leftTicks = [59685, 59686, 59687, 59688, 59689, 59690];
const rightTicks = [59914, 59915, 59916, 59917, 59918, 59919, 59920];
const rateTicks = [0.1, 1, 10];
const rateTickLabels = ["\u22121", "0", "1"];

const W = 706, H = 315;
const plotTop = 12, plotBottom = 276;
const pointColor = "#21898a";
const barColor = "#6aa8a9";
const serif = "'Liberation Serif', 'Times New Roman', Times, 'Nimbus Roman', 'DejaVu Serif', serif";

const svg = d3.select("body").append("svg")
    .attr("width", W).attr("height", H)
    .attr("font-family", serif);

const y = d3.scaleLog().domain(rateDomain).range([plotBottom, plotTop]);

// minor ticks for log axis: 2..9 times each decade inside the domain
const minorRate = [];
[0.01, 0.1, 1, 10].forEach(dec => {
    for (let k = 2; k <= 9; k++) {
        const v = dec * k;
        if (v >= rateDomain[0] && v <= rateDomain[1]) minorRate.push(v);
    }
});

function panel(id, left, right, domain, ticks, data, band, showLabel) {
    const x = d3.scaleLinear().domain(domain).range([left, right]);
    const g = svg.append("g");

    g.append("clipPath").attr("id", id)
        .append("rect")
        .attr("x", left).attr("y", plotTop)
        .attr("width", right - left).attr("height", plotBottom - plotTop);

    const plot = g.append("g").attr("clip-path", `url(#${id})`);

    plot.append("rect")
        .attr("x", x(band[0])).attr("y", plotTop)
        .attr("width", x(band[1]) - x(band[0]))
        .attr("height", plotBottom - plotTop)
        .attr("fill", "#d3f4f4");

    plot.append("g")
        .attr("stroke", barColor)
        .attr("stroke-opacity", 0.45)
        .attr("stroke-width", 1)
        .selectAll("line")
        .data(data)
        .join("line")
        .attr("x1", d => x(d[0])).attr("x2", d => x(d[0]))
        .attr("y1", d => y(Math.max(d[1] - d[2], 0.005)))
        .attr("y2", d => y(d[1] + d[2]));

    plot.append("g")
        .attr("fill", pointColor)
        .selectAll("circle")
        .data(data)
        .join("circle")
        .attr("cx", d => x(d[0]))
        .attr("cy", d => y(d[1]))
        .attr("r", 1.8);

    // x axis, ticks pointing inwards
    const half = d3.range(Math.ceil(domain[0] * 2) / 2, domain[1], 0.5);
    g.append("g")
        .attr("transform", `translate(0,${plotBottom})`)
        .call(d3.axisBottom(x).tickValues(half).tickSize(-2.5).tickFormat(""))
        .call(a => a.select(".domain").remove())
        .call(a => a.selectAll("line").attr("stroke", "#444"));

    g.append("g")
        .attr("transform", `translate(0,${plotBottom})`)
        .call(d3.axisBottom(x).tickValues(ticks).tickSize(-5).tickPadding(3).tickFormat(d3.format("d")))
        .attr("font-family", serif)
        .attr("font-size", 12)
        .call(a => a.select(".domain").remove())
        .call(a => a.selectAll("line").attr("stroke", "#333"))
        .call(a => a.selectAll("text").attr("fill", "#222"));

    // y axis
    g.append("g")
        .attr("transform", `translate(${left},0)`)
        .call(d3.axisLeft(y).tickValues(minorRate).tickSize(-2.5).tickFormat(""))
        .call(a => a.select(".domain").remove())
        .call(a => a.selectAll("line").attr("stroke", "#444"));

    g.append("g")
        .attr("transform", `translate(${left},0)`)
        .call(d3.axisLeft(y).tickValues(rateTicks).tickSize(-5).tickFormat(""))
        .call(a => a.select(".domain").remove())
        .call(a => a.selectAll("line").attr("stroke", "#333"));

    const lab = g.append("g").attr("font-family", serif);
    rateTicks.forEach((d, i) => {
        lab.append("text")
            .attr("x", left - 11)
            .attr("y", y(d) + 4)
            .attr("text-anchor", "end")
            .attr("font-size", 12)
            .text("10");
        lab.append("text")
            .attr("x", left - 10.5)
            .attr("y", y(d) - 1.5)
            .attr("font-size", 8.5)
            .text(rateTickLabels[i]);
    });

    // frame
    g.append("line").attr("x1", left).attr("x2", right).attr("y1", plotTop).attr("y2", plotTop)
        .attr("stroke", "#999").attr("stroke-width", 1.6);
    g.append("line").attr("x1", right).attr("x2", right).attr("y1", plotTop).attr("y2", plotBottom)
        .attr("stroke", "#999").attr("stroke-width", 1.6);
    g.append("line").attr("x1", left).attr("x2", left).attr("y1", plotTop).attr("y2", plotBottom)
        .attr("stroke", "#555").attr("stroke-width", 1.2);
    g.append("line").attr("x1", left).attr("x2", right).attr("y1", plotBottom).attr("y2", plotBottom)
        .attr("stroke", "#666").attr("stroke-width", 1.2);

    g.append("text")
        .attr("x", (left + right) / 2)
        .attr("y", 301)
        .attr("text-anchor", "middle")
        .attr("font-size", 12.5)
        .text("Time [MJD]");

    if (showLabel) {
        const t = g.append("text")
            .attr("transform", `translate(24,${(plotTop + plotBottom) / 2}) rotate(-90)`)
            .attr("text-anchor", "middle")
            .attr("font-size", 12.5);
        t.append("tspan").text("Rate [cts s");
        t.append("tspan").attr("font-size", 8.5).attr("dy", -5).text("\u22121");
        t.append("tspan").attr("dy", 5).text("]");
    }
}

panel("clipL", 52, 336, leftDomain, leftTicks, leftSeries, leftBand, true);
panel("clipR", 371, 680, rightDomain, rightTicks, rightSeries, rightBand, false);
</script>
</body>
</html>
